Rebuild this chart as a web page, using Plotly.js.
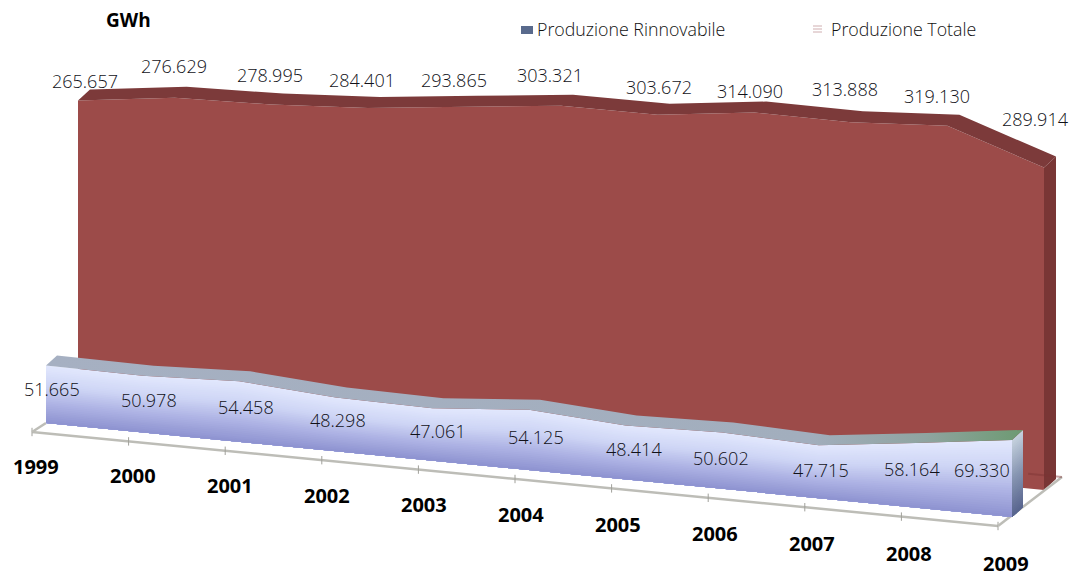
<!DOCTYPE html>
<html>
<head>
<meta charset="utf-8">
<script src="https://cdn.plot.ly/plotly-3.0.1.min.js"></script>
<style>html,body{margin:0;padding:0;background:#fff}</style>
</head>
<body>
<div id="chart" style="width:1084px;height:576px"></div>
<script>
// Electricity production in GWh, drawn as a sheared pseudo-3D area chart.
const years = [1999, 2000, 2001, 2002, 2003, 2004, 2005, 2006, 2007, 2008, 2009];
const totalProduction = [265.657, 276.629, 278.995, 284.401, 293.865, 303.321, 303.672, 314.090, 313.888, 319.130, 289.914];
const renewableProduction = [51.665, 50.978, 54.458, 48.298, 47.061, 54.125, 48.414, 50.602, 47.715, 58.164, 69.330];
const seriesNames = ['Produzione Rinnovabile', 'Produzione Totale'];

// Pixel nudges that keep the value labels clear of the area edges.
const totalNudgeX = [7, -1, -1, -6, -10, -11, 1, -4, -6, -10, -9];
const totalNudgeY = [-20, -32, -30, -28, -27, -31, -28, -22, -33, -30, -49];
const renewableNudgeX = [6, 6, 7, 2, 6, 7, 8, -1, 2, -3, -30];
const renewableNudgeY = [23, 24, 26, 23, 23, 27, 23, 25, 25, 26, 30];

// Axis scale of the drawing: pixels per year and per thousand GWh.
const W = 1084, H = 576;
const PX_YEAR = 96.6, PX_GWH = 1.112, ORIGIN_X = 46, ORIGIN_Y = 423;
const SHEAR = 9.4 / PX_GWH;          // the baseline falls towards later years
const xRange = [1999 - ORIGIN_X / PX_YEAR, 1999 + (W - ORIGIN_X) / PX_YEAR];
const yRange = [(ORIGIN_Y - H) / PX_GWH, ORIGIN_Y / PX_GWH];

// Depth planes of the scene, as pixel offsets from the renewable front plane.
const RENEW_FRONT = {dx: 0, dy: 0};
const RENEW_BACK = {dx: 11, dy: -10};
const TOTAL_FRONT = {dx: 32, dy: -27};
const TOTAL_BACK = {dx: 44, dy: -38};
const FLOOR_FRONT = {dx: -14, dy: 9};
const FLOOR_BACK = {dx: 50, dy: -40};

const X = (year, plane) => year + plane.dx / PX_YEAR;
const Y = (year, gwh, plane) => gwh - SHEAR * (year - 1999) - plane.dy / PX_GWH;

function polygon(points, fill, extra) {
  return Object.assign({
    type: 'scatter', mode: 'lines', x: points.map(p => p[0]), y: points.map(p => p[1]),
    fill: 'toself', fillcolor: fill, line: {width: 0}, hoverinfo: 'skip', showlegend: false
  }, extra || {});
}
// Closed face between a value line and the same line in a second plane or at a fraction.
function faceBetween(valsA, planeA, valsB, planeB, fill, extra) {
  const a = years.map((y, i) => [X(y, planeA), Y(y, valsA[i], planeA)]);
  const b = years.map((y, i) => [X(y, planeB), Y(y, valsB[i], planeB)]).reverse();
  return polygon(a.concat(b), fill, extra);
}
function mix(stops, t) {
  for (let i = 1; i < stops.length; i++) {
    if (t <= stops[i][0]) {
      const s = stops[i - 1], e = stops[i], u = (t - s[0]) / (e[0] - s[0]);
      const c = s[1].map((v, k) => Math.round(v + (e[1][k] - v) * u));
      return `rgb(${c[0]},${c[1]},${c[2]})`;
    }
  }
  const c = stops[stops.length - 1][1];
  return `rgb(${c[0]},${c[1]},${c[2]})`;
}

const zeros = years.map(() => 0);
const last = years.length - 1, lastYear = years[last];
const traces = [];

// Total production: front face, top surface, right side.
traces.push(faceBetween(totalProduction, TOTAL_FRONT, zeros, TOTAL_FRONT, '#9c4b49', {name: seriesNames[1]}));
traces.push(faceBetween(totalProduction, TOTAL_BACK, totalProduction, TOTAL_FRONT, '#7c3a3a'));
traces.push(polygon([
  [X(lastYear, TOTAL_FRONT), Y(lastYear, totalProduction[last], TOTAL_FRONT)],
  [X(lastYear, TOTAL_BACK), Y(lastYear, totalProduction[last], TOTAL_BACK)],
  [X(lastYear, TOTAL_BACK), Y(lastYear, 0, TOTAL_BACK)],
  [X(lastYear, TOTAL_FRONT), Y(lastYear, 0, TOTAL_FRONT)]
], '#793635'));

// Floor outline with a small tick at each year.
const floorLine = {color: '#bdbdb7', width: 2.5};
traces.push({
  type: 'scatter', mode: 'lines+markers', hoverinfo: 'skip', showlegend: false,
  x: years.map(y => X(y, FLOOR_FRONT)), y: years.map(y => Y(y, 0, FLOOR_FRONT)),
  line: floorLine, marker: {symbol: 'line-ns', size: 6, line: {color: '#a0a09a', width: 1}, color: '#a0a09a'}
});
traces.push({
  type: 'scatter', mode: 'lines', hoverinfo: 'skip', showlegend: false,
  x: [X(lastYear, FLOOR_FRONT), X(lastYear, FLOOR_BACK)],
  y: [Y(lastYear, 0, FLOOR_FRONT), Y(lastYear, 0, FLOOR_BACK)], line: floorLine
});
traces.push({
  type: 'scatter', mode: 'lines', hoverinfo: 'skip', showlegend: false,
  x: [X(lastYear - 0.35, FLOOR_BACK), X(lastYear, FLOOR_BACK)],
  y: [Y(lastYear - 0.35, 0, FLOOR_BACK), Y(lastYear, 0, FLOOR_BACK)],
  line: {color: 'rgba(125,50,50,0.45)', width: 2}
});
traces.push({
  type: 'scatter', mode: 'lines', hoverinfo: 'skip', showlegend: false,
  x: [X(1999, FLOOR_FRONT), X(1999, RENEW_FRONT)],
  y: [Y(1999, 0, FLOOR_FRONT), Y(1999, 0, RENEW_FRONT)], line: floorLine
});

// Renewable production: shaded front face, painted from the full height downwards.
const faceStops = [[0, [142, 146, 208]], [0.3, [170, 175, 226]], [0.65, [206, 213, 245]], [1, [226, 232, 253]]];
const sideStops = [[0, [88, 100, 142]], [0.5, [135, 150, 178]], [1, [198, 210, 222]]];
const STRIPS = 32;
for (let k = STRIPS; k >= 1; k--) {
  const f = k / STRIPS;
  traces.push(faceBetween(renewableProduction.map(v => v * f), RENEW_FRONT, zeros, RENEW_FRONT, mix(faceStops, f - 0.5 / STRIPS)));
}
for (let k = STRIPS; k >= 1; k--) {
  const f = k / STRIPS, v = renewableProduction[last] * f;
  traces.push(polygon([
    [X(lastYear, RENEW_FRONT), Y(lastYear, v, RENEW_FRONT)],
    [X(lastYear, RENEW_BACK), Y(lastYear, v, RENEW_BACK)],
    [X(lastYear, RENEW_BACK), Y(lastYear, 0, RENEW_BACK)],
    [X(lastYear, RENEW_FRONT), Y(lastYear, 0, RENEW_FRONT)]
  ], mix(sideStops, f - 0.5 / STRIPS)));
}
traces.push(faceBetween(renewableProduction, RENEW_BACK, renewableProduction, RENEW_FRONT, '#a3aec0', {
  name: seriesNames[0],
  fillgradient: {
    type: 'horizontal',
    colorscale: [[0, '#a6b0c2'], [0.78, '#a2aebd'], [0.9, '#8fa4a0'], [1, '#6d9a72']]
  }
}));

const valueFont = {family: '"Open Sans", sans-serif', size: 18, color: '#111118', weight: 300};
const yearFont = {family: '"Open Sans", sans-serif', size: 20, color: '#000', weight: 700};

function label(x, y, text, font, xshift, yshift) {
  return {x, y, text, font, xshift, yshift, showarrow: false, xanchor: 'center', yanchor: 'middle'};
}
function paperLabel(px, py, text, font, anchor) {
  return {xref: 'paper', yref: 'paper', x: px / W, y: 1 - py / H, text, font, showarrow: false,
          xanchor: anchor, yanchor: 'middle'};
}
const fmt = v => v.toFixed(3);
const annotations = [];
years.forEach((y, i) => {
  annotations.push(label(X(y, TOTAL_FRONT), Y(y, totalProduction[i], TOTAL_FRONT), fmt(totalProduction[i]), valueFont, totalNudgeX[i], -totalNudgeY[i]));
  annotations.push(label(X(y, RENEW_FRONT), Y(y, renewableProduction[i], RENEW_FRONT), fmt(renewableProduction[i]), valueFont, renewableNudgeX[i], -renewableNudgeY[i]));
  annotations.push(label(X(y, FLOOR_FRONT), Y(y, 0, FLOOR_FRONT), String(y), yearFont, 4 + 0.35 * i, -34 - 0.3 * i));
});

const legendFont = {family: '"Open Sans", sans-serif', size: 17.8, color: '#111', weight: 300};
annotations.push(paperLabel(128, 20, 'GWh', {family: '"Open Sans", sans-serif', size: 19, color: '#000', weight: 700}, 'center'));
annotations.push(paperLabel(535, 29, seriesNames[0], legendFont, 'left'));
annotations.push(paperLabel(829, 29, seriesNames[1], legendFont, 'left'));

// Legend swatches: solid key for renewables, striped key for the total.
const px = v => v / W, py = v => 1 - v / H;
const shapes = [{type: 'rect', xref: 'paper', yref: 'paper', x0: px(521), x1: px(533), y0: py(34), y1: py(26),
                 fillcolor: '#596a8c', line: {width: 0}}];
[26, 29, 32].forEach(v => shapes.push({type: 'line', xref: 'paper', yref: 'paper', x0: px(813), x1: px(822), y0: py(v), y1: py(v),
                 line: {color: '#cfaeb0', width: 1}}));

Plotly.newPlot('chart', traces, {
  width: W, height: H, margin: {l: 0, r: 0, t: 0, b: 0},
  paper_bgcolor: '#fff', plot_bgcolor: '#fff', showlegend: false,
  xaxis: {range: xRange, visible: false, fixedrange: true},
  yaxis: {range: yRange, visible: false, fixedrange: true},
  annotations, shapes
}, {displayModeBar: false, staticPlot: true});
</script>
</body>
</html>
